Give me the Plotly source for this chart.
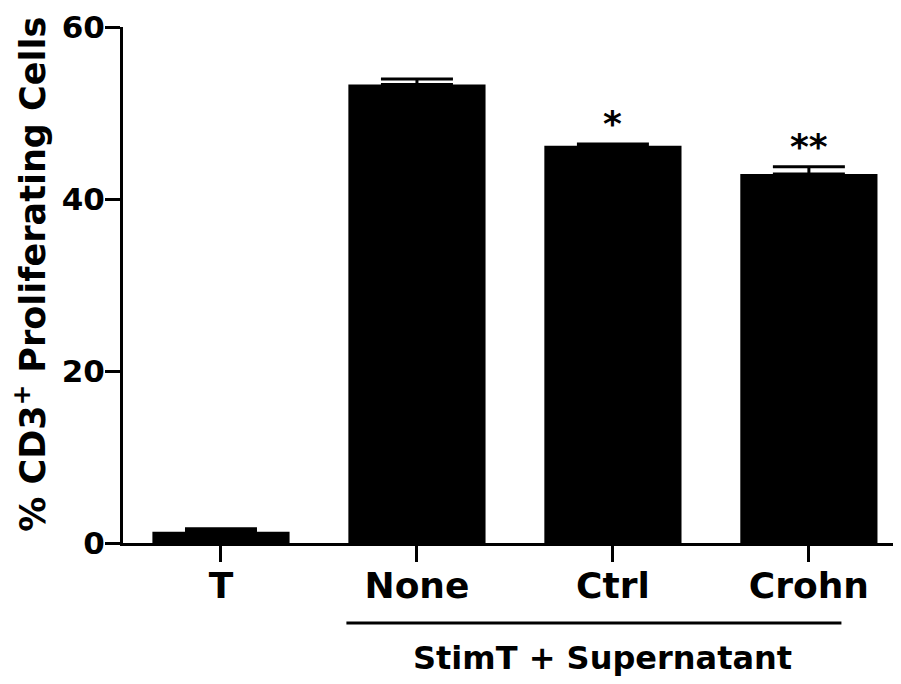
import plotly.graph_objects as go

categories = ["T", "None", "Ctrl", "Crohn"]
means = [1.3, 53.3, 46.2, 42.9]
errors = [0.35, 0.65, 0.2, 0.85]
stars = ["", "", "*", "**"]
group_label = "StimT + Supernatant"
y_title = "% CD3<sup>+</sup> Proliferating Cells"
y_ticks = [0, 20, 40, 60]

FONT = "DejaVu Sans"


def bold(size):
    return dict(family=FONT, size=size, color="black", weight="bold")


fig = go.Figure()
fig.add_trace(go.Bar(
    x=categories, y=means, width=0.7,
    marker=dict(color="black", line=dict(width=0)),
    error_y=dict(type="data", symmetric=False, array=errors,
                 arrayminus=[0] * len(errors),
                 color="black", thickness=3, width=36),
))

for c, m, e, s in zip(categories, means, errors, stars):
    if s:
        fig.add_annotation(x=c, y=m + e, text=s, showarrow=False,
                           yanchor="bottom", yshift=-2, font=bold(36))

fig.add_shape(type="line", xref="x", yref="paper",
              x0=0.64, x1=3.166, y0=-0.155, y1=-0.155,
              line=dict(color="black", width=3))
fig.add_annotation(xref="x", yref="paper", x=1.946, y=-0.223,
                   text=group_label, showarrow=False, yanchor="middle",
                   font=bold(32))

# y-axis title as rotated annotation
fig.add_annotation(xref="paper", yref="paper", x=-0.1195, y=0.52,
                   text=y_title, textangle=-90, showarrow=False,
                   xanchor="center", yanchor="middle", font=bold(35))

fig.update_layout(
    width=901, height=684,
    margin=dict(l=115, r=8, t=19, b=149, autoexpand=False),
    plot_bgcolor="white", paper_bgcolor="white",
    showlegend=False,
    font=dict(family=FONT, color="black"),
)
fig.update_xaxes(
    range=[-0.5, 3.47], showline=True, linecolor="black", linewidth=3,
    ticks="outside", ticklen=16, tickwidth=3, tickcolor="black",
    tickfont=bold(36), automargin=False,
    ticklabelstandoff=-7, showgrid=False, zeroline=False,
)
fig.update_yaxes(
    range=[0, 60], tickvals=y_ticks, showline=True, linecolor="black", linewidth=3,
    ticks="outside", ticklen=15, tickwidth=3, tickcolor="black",
    tickfont=bold(31), automargin=False,
    ticklabelstandoff=-6, showgrid=False, zeroline=False,
)

fig.write_html("out.html")
